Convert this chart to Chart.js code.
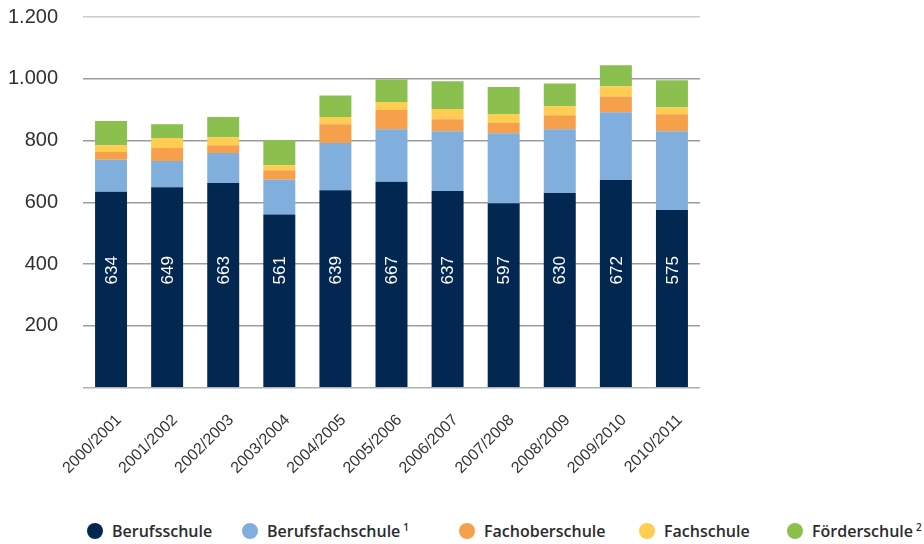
<!DOCTYPE html>
<html>
<head>
<meta charset="utf-8">
<script src="https://cdn.jsdelivr.net/npm/chart.js@4/dist/chart.umd.min.js"></script>
<style>
  html, body { margin: 0; padding: 0; background: #ffffff; }
  #wrap { position: relative; width: 924px; height: 544px; overflow: hidden; }
  #c { position: absolute; left: 0; top: 0; }
  #legend { position: absolute; left: 0; top: 519px; width: 924px; height: 24px;
            font-family: "Open Sans", sans-serif; font-weight: 600; font-size: 16px; color: #2b2b2b; }
  .item { position: absolute; top: 0; height: 24px; display: flex; align-items: center; white-space: nowrap; }
  .dot { width: 16px; height: 16px; border-radius: 50%; margin-right: 9px; flex: none; }
  sup { font-size: 10px; position: relative; top: -4px; vertical-align: baseline; margin-left: 3px; }
</style>
</head>
<body>
<div id="wrap">
  <canvas id="c" width="924" height="500"></canvas>
  <div id="legend"></div>
</div>
<script>
const categories = ['2000/2001','2001/2002','2002/2003','2003/2004','2004/2005','2005/2006','2006/2007','2007/2008','2008/2009','2009/2010','2010/2011'];
const berufsschule     = [634, 649, 663, 561, 639, 667, 637, 597, 630, 672, 575];
const berufsfachschule = [104,  85,  97, 112, 153, 170, 193, 227, 207, 220, 255];
const fachoberschule   = [ 25,  42,  25,  31,  61,  62,  39,  33,  45,  51,  55];
const fachschule       = [ 22,  32,  26,  16,  23,  26,  33,  29,  29,  33,  23];
const foerderschule    = [ 78,  45,  65,  81,  70,  73,  90,  87,  74,  68,  87];
const seriesNames = ['Berufsschule', 'Berufsfachschule', 'Fachoberschule', 'Fachschule', 'Förderschule'];
const seriesNotes = ['', '1', '', '', '2'];
const seriesColors = ['#022852', '#80afde', '#f7a04b', '#fecd51', '#8bbf4e'];
const yTicks = [0, 200, 400, 600, 800, 1000, 1200];

function deFormat(v) {
  return String(v).replace(/\B(?=(\d{3})+(?!\d))/g, '.');
}

const seriesData = [berufsschule, berufsfachschule, fachoberschule, fachschule, foerderschule];

const barLabels = {
  id: 'barLabels',
  afterDatasetsDraw(chart) {
    const ctx = chart.ctx;
    const meta = chart.getDatasetMeta(0);
    const y = chart.scales.y.getPixelForValue(380);
    ctx.save();
    ctx.fillStyle = '#ffffff';
    ctx.font = '17px "Liberation Sans", Arial, sans-serif';
    ctx.textAlign = 'center';
    ctx.textBaseline = 'middle';
    meta.data.forEach((bar, i) => {
      ctx.save();
      ctx.translate(bar.x, y);
      ctx.rotate(-Math.PI / 2);
      ctx.fillText(String(berufsschule[i]), 0, 1);
      ctx.restore();
    });
    ctx.restore();
  }
};

new Chart(document.getElementById('c'), {
  type: 'bar',
  data: {
    labels: categories,
    datasets: seriesData.map((d, i) => ({
      label: seriesNames[i],
      data: d,
      backgroundColor: seriesColors[i],
      borderWidth: 0,
      barPercentage: 0.57,
      categoryPercentage: 1.0
    }))
  },
  options: {
    responsive: false,
    animation: false,
    layout: { padding: { left: 0, right: 224, top: 17, bottom: 0 } },
    plugins: { legend: { display: false }, tooltip: { enabled: false } },
    scales: {
      x: {
        stacked: true,
        grid: { display: false },
        border: { display: false },
        afterFit: s => { s.height = 112.3; s.paddingLeft = 0; s.paddingRight = 0; s.paddingTop = 0; s.paddingBottom = 0; },
        ticks: {
          autoSkip: false,
          minRotation: 45,
          maxRotation: 45,
          padding: 15,
          labelOffset: 8,
          color: '#333333',
          font: { family: '"Liberation Sans", Arial, sans-serif', size: 16 }
        }
      },
      y: {
        stacked: true,
        min: 0,
        max: 1200,
        afterFit: s => { s.width = 83; s.paddingTop = 0; s.paddingBottom = 0; s.paddingLeft = 0; s.paddingRight = 0; },
        afterBuildTicks: s => { s.ticks = yTicks.map(v => ({ value: v })); },
        border: { display: false },
        grid: {
          drawTicks: false,
          lineWidth: 1.5,
          color: c => (c.tick && c.tick.value === 1200) ? '#cccccc' : (c.tick && c.tick.value === 0 ? '#b0b0b0' : '#9c9c9c')
        },
        ticks: {
          padding: 25,
          color: '#303030',
          font: { family: '"Liberation Sans", Arial, sans-serif', size: 20 },
          callback: v => v === 0 ? '' : deFormat(v)
        }
      }
    }
  },
  plugins: [barLabels]
});

const legendPos = [87, 242, 459, 639, 787];
const legend = document.getElementById('legend');
seriesNames.forEach((name, i) => {
  const it = document.createElement('div');
  it.className = 'item';
  it.style.left = legendPos[i] + 'px';
  const dot = document.createElement('span');
  dot.className = 'dot';
  dot.style.background = seriesColors[i];
  const txt = document.createElement('span');
  txt.textContent = name;
  it.appendChild(dot);
  it.appendChild(txt);
  if (seriesNotes[i]) {
    const sp = document.createElement('sup');
    sp.textContent = seriesNotes[i];
    it.appendChild(sp);
  }
  legend.appendChild(it);
});
</script>
</body>
</html>
